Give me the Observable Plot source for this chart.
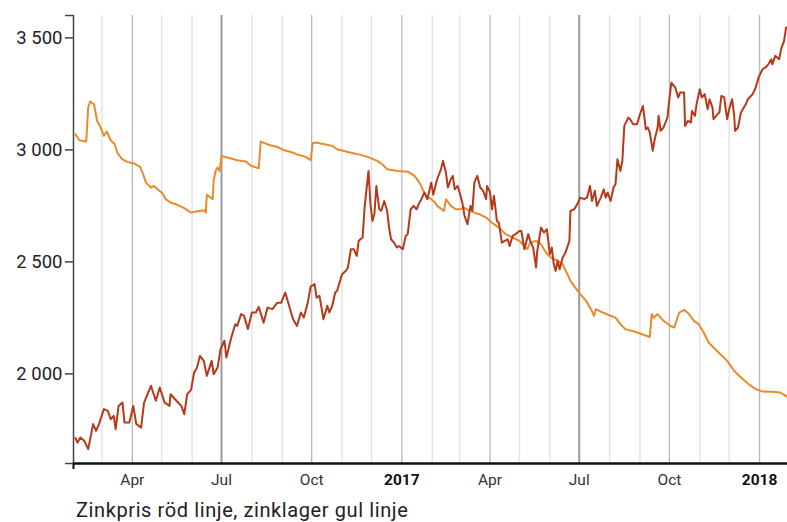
<!DOCTYPE html>
<html>
<head>
<meta charset="utf-8">
<script src="https://cdn.jsdelivr.net/npm/d3@7"></script>
<script src="https://cdn.jsdelivr.net/npm/@observablehq/plot@0.6"></script>
<style>
  html, body { margin: 0; padding: 0; background: #fff; }
  #caption { font-family: Roboto, "Noto Sans", sans-serif; font-size: 20px; letter-spacing: 0.6px; color: #222; margin-left: 76px; line-height: 24px; margin-top: 3px; white-space: nowrap; }
</style>
</head>
<body>
<div id="chart"></div>
<div id="caption">Zinkpris röd linje, zinklager gul linje</div>
<script>
// Zinkpris (röd linje)
const zinkpris = [
["2016-02-03",1714],["2016-02-05",1693],["2016-02-08",1716],["2016-02-12",1701],["2016-02-16",1664],
["2016-02-21",1776],["2016-02-24",1746],["2016-02-27",1776],["2016-03-03",1843],["2016-03-07",1835],
["2016-03-10",1798],["2016-03-13",1813],["2016-03-15",1753],["2016-03-18",1857],["2016-03-22",1872],
["2016-03-24",1783],["2016-03-29",1783],["2016-04-02",1857],["2016-04-05",1777],["2016-04-10",1760],
["2016-04-13",1872],["2016-04-20",1947],["2016-04-25",1880],["2016-04-29",1939],["2016-05-04",1872],
["2016-05-09",1857],["2016-05-10",1909],["2016-05-16",1880],["2016-05-21",1857],["2016-05-24",1820],
["2016-05-27",1909],["2016-05-31",1930],["2016-06-03",2005],["2016-06-06",2028],["2016-06-09",2080],
["2016-06-13",2058],["2016-06-16",1991],["2016-06-21",2058],["2016-06-23",1999],["2016-06-27",2028],
["2016-06-30",2110],["2016-07-04",2148],["2016-07-06",2073],["2016-07-11",2162],["2016-07-15",2222],
["2016-07-17",2214],["2016-07-21",2267],["2016-07-24",2259],["2016-07-28",2200],["2016-08-01",2274],
["2016-08-05",2274],["2016-08-08",2299],["2016-08-13",2229],["2016-08-17",2296],["2016-08-22",2289],
["2016-08-27",2318],["2016-08-31",2318],["2016-09-04",2363],["2016-09-08",2304],["2016-09-12",2244],
["2016-09-16",2214],["2016-09-20",2274],["2016-09-23",2252],["2016-09-27",2318],["2016-09-30",2390],
["2016-10-04",2401],["2016-10-06",2341],["2016-10-09",2348],["2016-10-13",2244],["2016-10-17",2304],
["2016-10-19",2274],["2016-10-22",2304],["2016-10-25",2363],["2016-10-27",2371],["2016-11-01",2445],
["2016-11-05",2460],["2016-11-07",2475],["2016-11-10",2557],["2016-11-13",2557],["2016-11-16",2527],
["2016-11-18",2594],["2016-11-22",2609],["2016-11-24",2743],["2016-11-28",2906],["2016-11-30",2758],
["2016-12-02",2683],["2016-12-04",2713],["2016-12-06",2839],["2016-12-09",2735],["2016-12-11",2728],
["2016-12-14",2772],["2016-12-17",2728],["2016-12-19",2653],["2016-12-21",2601],["2016-12-24",2586],
["2016-12-27",2564],["2016-12-29",2571],["2017-01-02",2557],["2017-01-05",2616],["2017-01-07",2624],
["2017-01-10",2735],["2017-01-13",2750],["2017-01-16",2735],["2017-01-19",2765],["2017-01-21",2780],
["2017-01-24",2810],["2017-01-27",2780],["2017-01-31",2854],["2017-02-02",2800],["2017-02-06",2869],
["2017-02-10",2914],["2017-02-12",2951],["2017-02-15",2899],["2017-02-17",2832],["2017-02-20",2869],
["2017-02-22",2884],["2017-02-24",2824],["2017-02-27",2839],["2017-03-01",2810],["2017-03-04",2758],
["2017-03-06",2705],["2017-03-09",2668],["2017-03-12",2750],["2017-03-14",2728],["2017-03-16",2854],
["2017-03-19",2884],["2017-03-22",2832],["2017-03-25",2817],["2017-03-28",2780],["2017-03-29",2839],
["2017-04-01",2810],["2017-04-03",2735],["2017-04-05",2795],["2017-04-08",2683],["2017-04-10",2675],
["2017-04-13",2586],["2017-04-16",2594],["2017-04-19",2601],["2017-04-21",2571],["2017-04-24",2616],
["2017-04-27",2624],["2017-05-01",2638],["2017-05-03",2638],["2017-05-06",2557],["2017-05-10",2624],
["2017-05-12",2594],["2017-05-15",2564],["2017-05-18",2475],["2017-05-19",2542],["2017-05-23",2653],
["2017-05-26",2631],["2017-05-29",2646],["2017-06-01",2534],["2017-06-03",2564],["2017-06-05",2490],
["2017-06-07",2460],["2017-06-09",2505],["2017-06-11",2467],["2017-06-14",2519],["2017-06-17",2542],
["2017-06-21",2594],["2017-06-22",2728],["2017-06-26",2735],["2017-06-29",2758],["2017-07-02",2787],
["2017-07-06",2780],["2017-07-09",2787],["2017-07-12",2839],["2017-07-14",2772],["2017-07-17",2817],
["2017-07-19",2750],["2017-07-23",2787],["2017-07-26",2824],["2017-07-28",2787],["2017-07-30",2810],
["2017-08-02",2772],["2017-08-05",2832],["2017-08-07",2847],["2017-08-09",2958],["2017-08-12",2906],
["2017-08-14",2951],["2017-08-16",3107],["2017-08-20",3144],["2017-08-22",3137],["2017-08-25",3115],
["2017-08-29",3115],["2017-09-01",3159],["2017-09-04",3196],["2017-09-07",3092],["2017-09-09",3100],
["2017-09-11",3077],["2017-09-14",2996],["2017-09-16",3048],["2017-09-19",3100],["2017-09-20",3152],
["2017-09-22",3085],["2017-09-25",3100],["2017-09-29",3144],["2017-09-30",3189],["2017-10-03",3300],
["2017-10-07",3278],["2017-10-10",3234],["2017-10-12",3256],["2017-10-16",3256],["2017-10-17",3107],
["2017-10-20",3130],["2017-10-23",3122],["2017-10-24",3174],["2017-10-27",3152],["2017-10-29",3211],
["2017-11-01",3271],["2017-11-03",3234],["2017-11-06",3249],["2017-11-09",3182],["2017-11-11",3226],
["2017-11-14",3189],["2017-11-15",3137],["2017-11-19",3159],["2017-11-21",3167],["2017-11-23",3241],
["2017-11-26",3234],["2017-11-27",3196],["2017-11-29",3137],["2017-12-01",3182],["2017-12-04",3226],
["2017-12-06",3159],["2017-12-07",3085],["2017-12-10",3100],["2017-12-13",3167],["2017-12-16",3189],
["2017-12-18",3204],["2017-12-20",3226],["2017-12-25",3249],["2017-12-28",3278],["2017-12-31",3323],
["2018-01-04",3360],["2018-01-07",3368],["2018-01-10",3382],["2018-01-13",3405],["2018-01-14",3382],
["2018-01-17",3420],["2018-01-21",3405],["2018-01-23",3450],["2018-01-26",3487],["2018-01-28",3546]
];

// Zinklager (gul linje), read on the same axis
const zinklager = [
["2016-02-03",3070],["2016-02-07",3043],["2016-02-14",3037],["2016-02-16",3189],["2016-02-18",3216],
["2016-02-22",3204],["2016-02-25",3130],["2016-02-28",3107],["2016-03-03",3063],["2016-03-06",3082],
["2016-03-10",3043],["2016-03-14",3025],["2016-03-17",2984],["2016-03-22",2958],["2016-03-27",2946],
["2016-04-03",2939],["2016-04-09",2924],["2016-04-12",2892],["2016-04-15",2854],["2016-04-20",2832],
["2016-04-23",2839],["2016-04-28",2820],["2016-05-02",2805],["2016-05-05",2780],["2016-05-10",2765],
["2016-05-17",2755],["2016-05-24",2740],["2016-05-31",2720],["2016-06-05",2725],["2016-06-10",2728],
["2016-06-13",2731],["2016-06-15",2720],["2016-06-16",2799],["2016-06-20",2787],["2016-06-22",2780],
["2016-06-23",2862],["2016-06-25",2906],["2016-06-27",2921],["2016-06-29",2906],["2016-07-01",2973],
["2016-07-07",2966],["2016-07-17",2954],["2016-07-26",2948],["2016-07-31",2929],["2016-08-08",2918],
["2016-08-10",3037],["2016-08-19",3022],["2016-08-27",3013],["2016-09-03",2998],["2016-09-10",2991],
["2016-09-17",2978],["2016-09-25",2969],["2016-09-30",2954],["2016-10-02",3030],["2016-10-05",3033],
["2016-10-14",3025],["2016-10-22",3018],["2016-10-27",3003],["2016-11-07",2991],["2016-11-17",2981],
["2016-11-27",2969],["2016-12-07",2951],["2016-12-12",2936],["2016-12-17",2914],["2016-12-28",2906],
["2017-01-07",2903],["2017-01-14",2884],["2017-01-19",2854],["2017-01-23",2817],["2017-01-26",2795],
["2017-01-31",2780],["2017-02-04",2765],["2017-02-06",2750],["2017-02-13",2728],["2017-02-15",2780],
["2017-02-20",2750],["2017-02-25",2735],["2017-03-02",2735],["2017-03-05",2743],["2017-03-11",2728],
["2017-03-16",2720],["2017-03-21",2713],["2017-03-28",2698],["2017-04-03",2675],["2017-04-10",2653],
["2017-04-17",2624],["2017-04-24",2609],["2017-05-01",2594],["2017-05-06",2571],["2017-05-09",2557],
["2017-05-12",2586],["2017-05-18",2594],["2017-05-23",2579],["2017-05-28",2542],["2017-06-02",2519],
["2017-06-09",2505],["2017-06-14",2490],["2017-06-19",2445],["2017-06-22",2415],["2017-06-27",2385],
["2017-07-02",2356],["2017-07-08",2326],["2017-07-13",2289],["2017-07-16",2259],["2017-07-18",2289],
["2017-07-25",2274],["2017-07-31",2263],["2017-08-07",2251],["2017-08-12",2222],["2017-08-17",2200],
["2017-08-26",2189],["2017-09-03",2177],["2017-09-11",2165],["2017-09-13",2267],["2017-09-15",2251],
["2017-09-19",2267],["2017-09-25",2237],["2017-10-02",2214],["2017-10-06",2207],["2017-10-11",2274],
["2017-10-16",2286],["2017-10-21",2267],["2017-10-26",2237],["2017-10-31",2222],["2017-11-05",2185],
["2017-11-10",2140],["2017-11-15",2118],["2017-11-22",2088],["2017-11-29",2058],["2017-12-06",2014],
["2017-12-13",1984],["2017-12-21",1954],["2017-12-28",1932],["2018-01-04",1921],["2018-01-14",1920],
["2018-01-22",1917],["2018-01-29",1899]
];

const yTicks = [2000, 2500, 3000, 3500];
const xTickDates = ["2016-04-01","2016-07-01","2016-10-01","2017-01-01","2017-04-01","2017-07-01","2017-10-01","2018-01-01"];
const xTickLabels = ["Apr","Jul","Oct","2017","Apr","Jul","Oct","2018"];
const xDomain = ["2016-02-01","2018-01-29T12:00"];
const yDomain = [1600, 3600];

const parse = s => new Date(s + (s.length === 10 ? "T00:00Z" : "Z"));
const price = zinkpris.map(([d, v]) => ({date: parse(d), value: v}));
const stock = zinklager.map(([d, v]) => ({date: parse(d), value: v}));
const x0 = parse(xDomain[0]), x1 = parse(xDomain[1]);
const months = d3.utcMonth.range(d3.utcMonth.offset(x0, 1), x1);
const minor = months.filter(d => d.getUTCMonth() % 3 !== 0);
const quarter = months.filter(d => d.getUTCMonth() % 3 === 0 && d.getUTCMonth() !== 6);
const july = months.filter(d => d.getUTCMonth() === 6);
const tickDates = xTickDates.map(parse);
const labelOf = new Map(tickDates.map((d, i) => [+d, xTickLabels[i]]));
const janTicks = tickDates.filter(d => d.getUTCMonth() === 0);
const otherTicks = tickDates.filter(d => d.getUTCMonth() !== 0);
const fmt = d => d3.format(",")(d).replace(/,/g, " ");

const chart = Plot.plot({
  width: 787,
  height: 495,
  marginTop: 15,
  marginLeft: 73,
  marginRight: 0,
  marginBottom: 32,
  style: {fontFamily: "Roboto, 'Noto Sans', sans-serif", color: "#222", background: "#fff"},
  x: {type: "utc", domain: [x0, x1]},
  y: {domain: yDomain},
  marks: [
    Plot.ruleX(minor, {stroke: "#e4e4e4", strokeWidth: 1.5}),
    Plot.ruleX(quarter, {stroke: "#b8b8b8", strokeWidth: 1.3}),
    Plot.ruleX(july, {stroke: "#9a9a9a", strokeWidth: 2}),
    Plot.lineY(stock, {x: "date", y: "value", stroke: "#e98b2b", strokeWidth: 2}),
    Plot.lineY(price, {x: "date", y: "value", stroke: "#b7391a", strokeWidth: 2}),
    Plot.ruleX([x0], {stroke: "#444", strokeWidth: 1.5}),
    Plot.ruleY([yDomain[0]], {stroke: "#111", strokeWidth: 2.5}),
    Plot.axisY({ticks: [yDomain[0], ...yTicks, yDomain[1]], tickFormat: d => yTicks.includes(d) ? fmt(d) : "", tickSize: 8, tickPadding: 3, fontSize: 18.5, stroke: "#444", strokeWidth: 1.5, label: null}),
    Plot.axisX({ticks: [x0], tickFormat: () => "", tickSize: 6, stroke: "#111", strokeWidth: 2, label: null}),
    Plot.axisX({ticks: otherTicks, tickFormat: d => labelOf.get(+d), tickSize: 0, tickPadding: 10, fontSize: 15.5, fill: "#333", label: null}),
    Plot.axisX({ticks: janTicks, tickFormat: d => labelOf.get(+d), tickSize: 0, tickPadding: 10, fontSize: 15.5, fontWeight: "bold", fill: "#111", label: null})
  ]
});
document.getElementById("chart").appendChild(chart);
</script>
</body>
</html>
